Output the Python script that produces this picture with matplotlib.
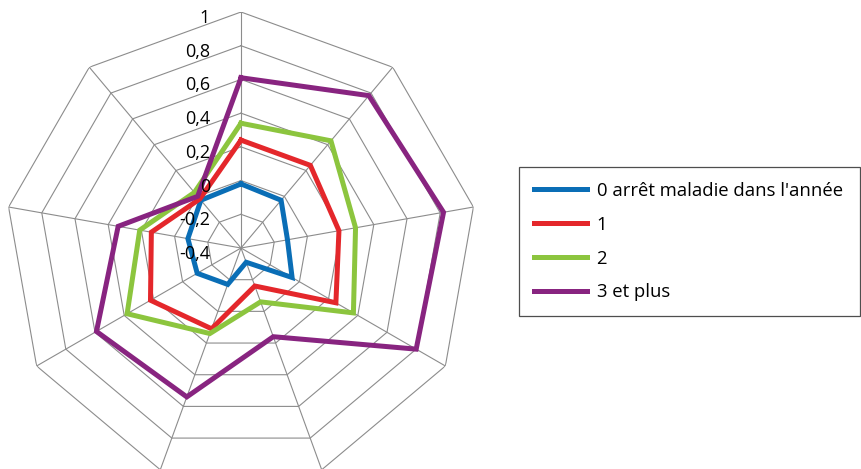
import numpy as np
import matplotlib
matplotlib.use('Agg')
import matplotlib.pyplot as plt
from matplotlib.transforms import offset_copy

# ----------------------------------------------------------------------
# Data (9 axes, clockwise from the top)
n_axes = 9
series_names = ["0 arrêt maladie dans l'année", '1', '2', '3 et plus']
vals_0 = [-0.02, -0.03, -0.12, -0.05, -0.31, -0.17, -0.10, -0.08, -0.03]
vals_1 = [0.24, 0.24, 0.19, 0.25, -0.16, 0.11, 0.22, 0.14, -0.02]
vals_2 = [0.34, 0.43, 0.29, 0.37, -0.06, 0.14, 0.38, 0.21, 0.03]
vals_3 = [0.61, 0.78, 0.82, 0.80, 0.16, 0.54, 0.59, 0.34, 0.00]
ticks = [-0.4, -0.2, 0, 0.2, 0.4, 0.6, 0.8, 1]
tick_labels = ['-0,4', '-0,2', '0', '0,2', '0,4', '0,6', '0,8', '1']
colours = ['#0A6EB6', '#E4272B', '#8CC53E', '#882480']

plt.rcParams['font.family'] = ['Open Sans', 'DejaVu Sans']

W, H = 861, 469
fig = plt.figure(figsize=(W/100., H/100.), dpi=100)

# Polar axes placed so that centre is at (241,248) px, radius 236 px
cx, cy, R = 241, 248, 236
ax = fig.add_axes([(cx-R)/W, (H-cy-R)/H, 2*R/W, 2*R/H], projection='polar')
ax.set_theta_offset(np.pi/2)
ax.set_theta_direction(-1)
ax.set_ylim(ticks[0], ticks[-1])
ax.grid(False)
ax.set_xticks([])
ax.set_yticks([])
ax.spines['polar'].set_visible(False)
ax.patch.set_visible(False)

theta = np.linspace(0, 2*np.pi, n_axes, endpoint=False)
theta_closed = np.append(theta, theta[0])

# Polygon grid
gridcol = '#8C8C8C'
for t in ticks[1:]:
    ax.plot(theta_closed, [t]*(n_axes+1), color=gridcol, lw=0.8, zorder=1)
for th in theta:
    ax.plot([th, th], [ticks[0], ticks[-1]], color=gridcol, lw=0.8, zorder=1)

# Value labels along the vertical axis
trans = offset_copy(ax.transData, fig=fig, x=-31, y=-6, units='dots')
for t, lab in zip(ticks, tick_labels):
    ax.text(0, t, lab, transform=trans, ha='right', va='center',
            fontsize=13, color='black', zorder=5)

# Series
lines = []
for vals, col, name in zip([vals_0, vals_1, vals_2, vals_3], colours, series_names):
    l, = ax.plot(theta_closed, vals + vals[:1], color=col, lw=3.6,
                 solid_joinstyle='miter', label=name, zorder=3)
    lines.append(l)

leg = fig.legend(handles=lines, loc='upper left',
                 bbox_to_anchor=(519/W, 1-313/H, (860-519)/W, 146/H),
                 mode='expand', fontsize=13.3, frameon=True, fancybox=False,
                 handlelength=2.9, handletextpad=0.5, labelspacing=0.86,
                 borderpad=0.8, borderaxespad=0)
leg.get_frame().set_edgecolor('#222222')
leg.get_frame().set_linewidth(0.9)

fig.savefig('out.png', dpi=100)
